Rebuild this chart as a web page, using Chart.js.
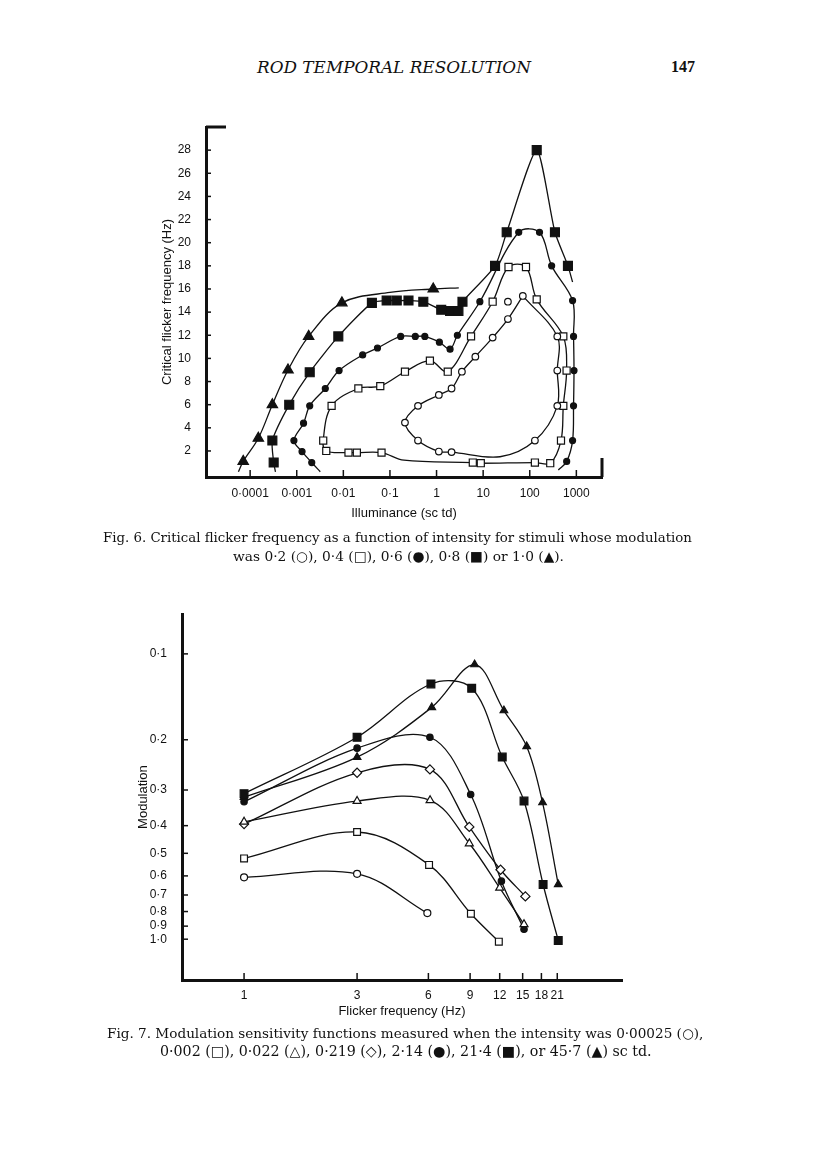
<!DOCTYPE html>
<html>
<head>
<meta charset="utf-8">
<title>Rod temporal resolution - Fig. 6 and Fig. 7</title>
<script src="https://cdn.jsdelivr.net/npm/chart.js@4.4.1/dist/chart.umd.min.js"></script>
<style>
  body { margin: 0; background: #fff; }
  #page { position: relative; width: 816px; height: 1160px; overflow: hidden; background: #fff; }
  .txt { position: absolute; white-space: nowrap; font-family: 'DejaVu Serif', 'Liberation Serif', serif; color: #111; line-height: 18px; }
  canvas { position: absolute; }
</style>
</head>
<body>
<div id="page">
  <div class="txt" style="left:257px; top:58px; font-style:italic; font-size:15px;" data-w="274">ROD TEMPORAL RESOLUTION</div>
  <div class="txt" style="left:671px; top:58px; font-family:'Liberation Serif', serif; font-weight:bold; font-size:16px;">147</div>

  <canvas id="fig6" width="490" height="430" style="left:150px; top:110px;"></canvas>
  <div class="txt" style="left:103px; top:529px; font-size:14px;" data-w="589">Fig. 6. Critical flicker frequency as a function of intensity for stimuli whose modulation</div>
  <div class="txt" style="left:233px; top:547px; font-size:14px;" data-w="331">was 0·2 (○), 0·4 (□), 0·6 (●), 0·8 (■) or 1·0 (▲).</div>

  <canvas id="fig7" width="520" height="430" style="left:120px; top:600px;"></canvas>
  <div class="txt" style="left:107px; top:1024px; font-size:14px;" data-w="597">Fig. 7. Modulation sensitivity functions measured when the intensity was 0·00025 (○),</div>
  <div class="txt" style="left:160px; top:1042px; font-size:14px;" data-w="492">0·002 (□), 0·022 (△), 0·219 (◇), 2·14 (●), 21·4 (■), or 45·7 (▲) sc td.</div>
</div>

<script>
// ---------- Fig. 6 : critical flicker frequency vs illuminance ----------
// mark = 1 -> symbol drawn, 0 -> only a bend / end of the hand drawn curve
const xTicks6 = [0.0001, 0.001, 0.01, 0.1, 1, 10, 100, 1000];
const xLabels6 = ['0·0001', '0·001', '0·01', '0·1', '1', '10', '100', '1000'];
const yTicks6 = [2, 4, 6, 8, 10, 12, 14, 16, 18, 20, 22, 24, 26, 28];

// modulation 0.2 (open circles), closed loop
const m02Lux = [71, 390, 390, 390, 129, 23, 2.1, 1.12, 0.40, 0.21, 0.40, 1.12, 2.1, 3.5, 6.8, 16, 34, 71];
const m02Cff = [15.4, 11.9, 8.95, 5.9, 2.9, 1.5, 1.9, 1.95, 2.9, 4.45, 5.9, 6.84, 7.4, 8.85, 10.15, 11.8, 13.4, 15.4];
const m02Mark = [1, 1, 1, 1, 1, 0, 1, 1, 1, 1, 1, 1, 1, 1, 1, 1, 1, 0];
const m02ExtraLux = [34];
const m02ExtraCff = [14.9];

// modulation 0.4 (open squares), closed loop
const m04Lux = [5.5, 16, 35, 83, 141, 525, 617, 525, 468, 275, 129, 8.9, 6.0, 0.2, 0.066, 0.0195, 0.0129, 0.0043, 0.0037, 0.0056, 0.021, 0.062, 0.21, 0.72, 1.74, 5.5];
const m04Cff = [11.9, 14.9, 17.9, 17.9, 15.1, 11.9, 8.95, 5.9, 2.9, 0.94, 1.0, 0.94, 1.0, 1.2, 1.86, 1.86, 1.86, 2.0, 2.9, 5.9, 7.4, 7.6, 8.85, 9.8, 8.85, 11.9];
const m04Mark = [1, 1, 1, 1, 1, 1, 1, 1, 1, 1, 1, 1, 1, 0, 1, 1, 1, 1, 1, 1, 1, 1, 1, 1, 1, 0];

// modulation 0.6 (filled circles)
const m06Lux = [0.0032, 0.0021, 0.0013, 0.00087, 0.0014, 0.0019, 0.0041, 0.0081, 0.026, 0.054, 0.17, 0.35, 0.56, 1.15, 1.95, 2.8, 8.5, 58, 162, 295, 830, 870, 890, 870, 830, 620, 410];
const m06Cff = [0.2, 1.0, 1.95, 2.9, 4.4, 5.9, 7.4, 8.95, 10.3, 10.9, 11.9, 11.9, 11.9, 11.4, 10.8, 12.0, 14.9, 20.9, 20.9, 18.0, 15.0, 11.9, 8.95, 5.9, 2.9, 1.1, 0.35];
const m06Mark = [0, 1, 1, 1, 1, 1, 1, 1, 1, 1, 1, 1, 1, 1, 1, 1, 1, 1, 1, 1, 1, 1, 1, 1, 1, 1, 0];

// modulation 0.8 (filled squares)
const m08Lux = [0.00035, 0.00032, 0.00030, 0.00069, 0.0019, 0.0078, 0.041, 0.085, 0.14, 0.25, 0.52, 1.26, 1.95, 2.95, 3.6, 18, 32, 141, 347, 660, 830];
const m08Cff = [0.2, 1.0, 2.9, 6.0, 8.8, 11.9, 14.8, 15.0, 15.0, 15.0, 14.9, 14.2, 14.1, 14.1, 14.9, 18.0, 20.9, 28.0, 20.9, 18.0, 16.6];
const m08Mark = [0, 1, 1, 1, 1, 1, 1, 1, 1, 1, 1, 1, 1, 1, 1, 1, 1, 1, 1, 1, 0];

// modulation 1.0 (filled triangles)
const m10Lux = [0.000056, 0.000071, 0.00015, 0.00030, 0.00065, 0.0018, 0.0093, 0.1, 0.85, 3.0];
const m10Cff = [0.2, 1.1, 3.1, 6.0, 9.0, 11.9, 14.8, 15.7, 16.0, 16.1];
const m10Mark = [0, 1, 1, 1, 1, 1, 1, 0, 1, 0];

// ---------- Fig. 7 : modulation sensitivity ----------
const xTicks7 = [1, 3, 6, 9, 12, 15, 18, 21];
const yTicks7 = [0.1, 0.2, 0.3, 0.4, 0.5, 0.6, 0.7, 0.8, 0.9, 1.0];
const yLabels7 = ['0·1', '0·2', '0·3', '0·4', '0·5', '0·6', '0·7', '0·8', '0·9', '1·0'];

const i00025Freq = [1, 3, 5.94];
const i00025Mod = [0.607, 0.590, 0.810];
const i0002Freq = [1, 3, 6.04, 9.07, 11.9];
const i0002Mod = [0.521, 0.421, 0.549, 0.814, 1.02];
const i0022Freq = [1, 3, 6.1, 8.93, 12.0, 15.2];
const i0022Mod = [0.388, 0.328, 0.326, 0.462, 0.661, 0.887];
const i0219Freq = [1, 3, 6.09, 8.93, 12.1, 15.4];
const i0219Mod = [0.395, 0.261, 0.254, 0.404, 0.571, 0.708];
const i214Freq = [1, 3, 6.09, 9.05, 12.2, 15.2];
const i214Mod = [0.330, 0.214, 0.196, 0.311, 0.626, 0.923];
const i214bFreq = [1, 3, 6.15, 9.14, 12.3, 15.2, 18.3, 21.2];
const i214bMod = [0.309, 0.196, 0.1275, 0.132, 0.230, 0.328, 0.643, 1.01];
const i457Freq = [1, 3, 6.2, 9.4, 12.5, 15.6, 18.2, 21.2];
const i457Mod = [0.318, 0.230, 0.154, 0.109, 0.158, 0.211, 0.332, 0.643];

const INK = '#111';

Chart.defaults.font.family = "'Liberation Sans', Arial, Helvetica, sans-serif";
Chart.defaults.color = INK;

// ticks pointing into the plot, plus the little corner strokes of Fig. 6
const inwardTicks = {
    id: 'inwardTicks',
    afterDraw(chart, args, opts) {
        const ctx = chart.ctx;
        const area = chart.chartArea;
        ctx.save();
        ctx.strokeStyle = INK;
        ctx.lineWidth = 1.5;
        chart.scales.x.ticks.forEach(function (t) {
            const px = chart.scales.x.getPixelForValue(t.value);
            ctx.beginPath();
            ctx.moveTo(px, area.bottom);
            ctx.lineTo(px, area.bottom - opts.x);
            ctx.stroke();
        });
        chart.scales.y.ticks.forEach(function (t) {
            const py = chart.scales.y.getPixelForValue(t.value);
            ctx.beginPath();
            ctx.moveTo(area.left, py);
            ctx.lineTo(area.left + opts.y, py);
            ctx.stroke();
        });
        if (opts.corners) {
            ctx.lineWidth = 3;
            ctx.beginPath();
            ctx.moveTo(area.left, area.top);
            ctx.lineTo(area.left + 20, area.top);
            ctx.moveTo(area.right, area.bottom);
            ctx.lineTo(area.right, area.bottom - 19);
            ctx.stroke();
        }
        ctx.restore();
    }
};

function curve(xs, ys, marks, look) {
    return {
        data: xs.map(function (x, i) { return { x: x, y: ys[i] }; }),
        showLine: true,
        tension: look.tension || 0.35,
        borderColor: INK,
        borderWidth: 1.3,
        pointStyle: look.shape,
        pointRadius: marks ? marks.map(function (m) { return m ? look.r : 0; }) : look.r,
        pointBackgroundColor: look.filled ? INK : '#fff',
        pointBorderColor: INK,
        pointBorderWidth: 1.2
    };
}

function dots(xs, ys, look) {
    const d = curve(xs, ys, null, look);
    d.showLine = false;
    return d;
}

function axisTitle(text, padding) {
    return { display: true, text: text, font: { size: 13 }, padding: padding };
}

new Chart(document.getElementById('fig6'), {
    type: 'scatter',
    data: {
        datasets: [
            curve(m02Lux, m02Cff, m02Mark, { shape: 'circle', r: 3.3, filled: false }),
            dots(m02ExtraLux, m02ExtraCff, { shape: 'circle', r: 3.3, filled: false }),
            curve(m04Lux, m04Cff, m04Mark, { shape: 'rect', r: 5, filled: false }),
            curve(m06Lux, m06Cff, m06Mark, { shape: 'circle', r: 3, filled: true }),
            curve(m08Lux, m08Cff, m08Mark, { shape: 'rect', r: 6.3, filled: true, tension: 0.2 }),
            curve(m10Lux, m10Cff, m10Mark, { shape: 'triangle', r: 6, filled: true })
        ]
    },
    options: {
        responsive: false,
        animation: false,
        layout: { padding: { top: 17, right: 38, left: 0, bottom: 0 } },
        plugins: {
            legend: { display: false },
            tooltip: { enabled: false },
            inwardTicks: { x: 7, y: 5, corners: true }
        },
        scales: {
            x: {
                type: 'logarithmic',
                min: 0.0000113,
                max: 3550,
                afterBuildTicks: function (s) { s.ticks = xTicks6.map(function (v) { return { value: v }; }); },
                afterFit: function (s) { s.height = 63; },
                ticks: {
                    autoSkip: false, maxRotation: 0, padding: 1, font: { size: 12 },
                    callback: function (v, i) { return xLabels6[i]; }
                },
                grid: { display: false },
                border: { color: INK, width: 3 },
                title: axisTitle('Illuminance (sc td)', { top: 0, bottom: 19 })
            },
            y: {
                min: -0.25,
                max: 30,
                afterBuildTicks: function (s) { s.ticks = yTicks6.map(function (v) { return { value: v }; }); },
                afterFit: function (s) { s.width = 56; },
                ticks: { autoSkip: false, padding: 7, font: { size: 12 } },
                grid: { display: false },
                border: { color: INK, width: 3 },
                title: axisTitle('Critical flicker frequency (Hz)', { top: 10, bottom: 0 })
            }
        }
    },
    plugins: [inwardTicks]
});

new Chart(document.getElementById('fig7'), {
    type: 'scatter',
    data: {
        datasets: [
            curve(i00025Freq, i00025Mod, null, { shape: 'circle', r: 3.5, filled: false }),
            curve(i0002Freq, i0002Mod, null, { shape: 'rect', r: 4.8, filled: false }),
            curve(i0022Freq, i0022Mod, null, { shape: 'triangle', r: 4.6, filled: false }),
            curve(i0219Freq, i0219Mod, null, { shape: 'rectRot', r: 4.6, filled: false }),
            curve(i214Freq, i214Mod, null, { shape: 'circle', r: 3.2, filled: true }),
            curve(i214bFreq, i214bMod, null, { shape: 'rect', r: 5.5, filled: true }),
            curve(i457Freq, i457Mod, null, { shape: 'triangle', r: 4.4, filled: true })
        ]
    },
    options: {
        responsive: false,
        animation: false,
        layout: { padding: { top: 12, right: 18, left: 0, bottom: 0 } },
        plugins: {
            legend: { display: false },
            tooltip: { enabled: false },
            inwardTicks: { x: 7, y: 6, corners: false }
        },
        scales: {
            x: {
                type: 'logarithmic',
                min: 0.547,
                max: 39.4,
                afterBuildTicks: function (s) { s.ticks = xTicks7.map(function (v) { return { value: v }; }); },
                afterFit: function (s) { s.height = 50; },
                ticks: {
                    autoSkip: false, maxRotation: 0, padding: 0, font: { size: 12 },
                    callback: function (v) { return String(v); }
                },
                grid: { display: false },
                border: { color: INK, width: 3 },
                title: axisTitle('Flicker frequency (Hz)', { top: 0, bottom: 11 })
            },
            y: {
                type: 'logarithmic',
                reverse: true,
                min: 0.0726,
                max: 1.39,
                afterBuildTicks: function (s) { s.ticks = yTicks7.map(function (v) { return { value: v }; }); },
                afterFit: function (s) { s.width = 62; },
                ticks: {
                    autoSkip: false, padding: 7, font: { size: 12 },
                    callback: function (v, i) { return yLabels7[i]; }
                },
                grid: { display: false },
                border: { color: INK, width: 3 },
                title: axisTitle('Modulation', { top: 16, bottom: 0 })
            }
        }
    },
    plugins: [inwardTicks]
});

// stretch each line of serif text to the width it has on the printed page
document.querySelectorAll('.txt[data-w]').forEach(function (el) {
    const target = Number(el.dataset.w);
    const size = parseFloat(getComputedStyle(el).fontSize);
    const w = el.getBoundingClientRect().width;
    el.style.fontSize = (size * target / w).toFixed(2) + 'px';
});
</script>
</body>
</html>
